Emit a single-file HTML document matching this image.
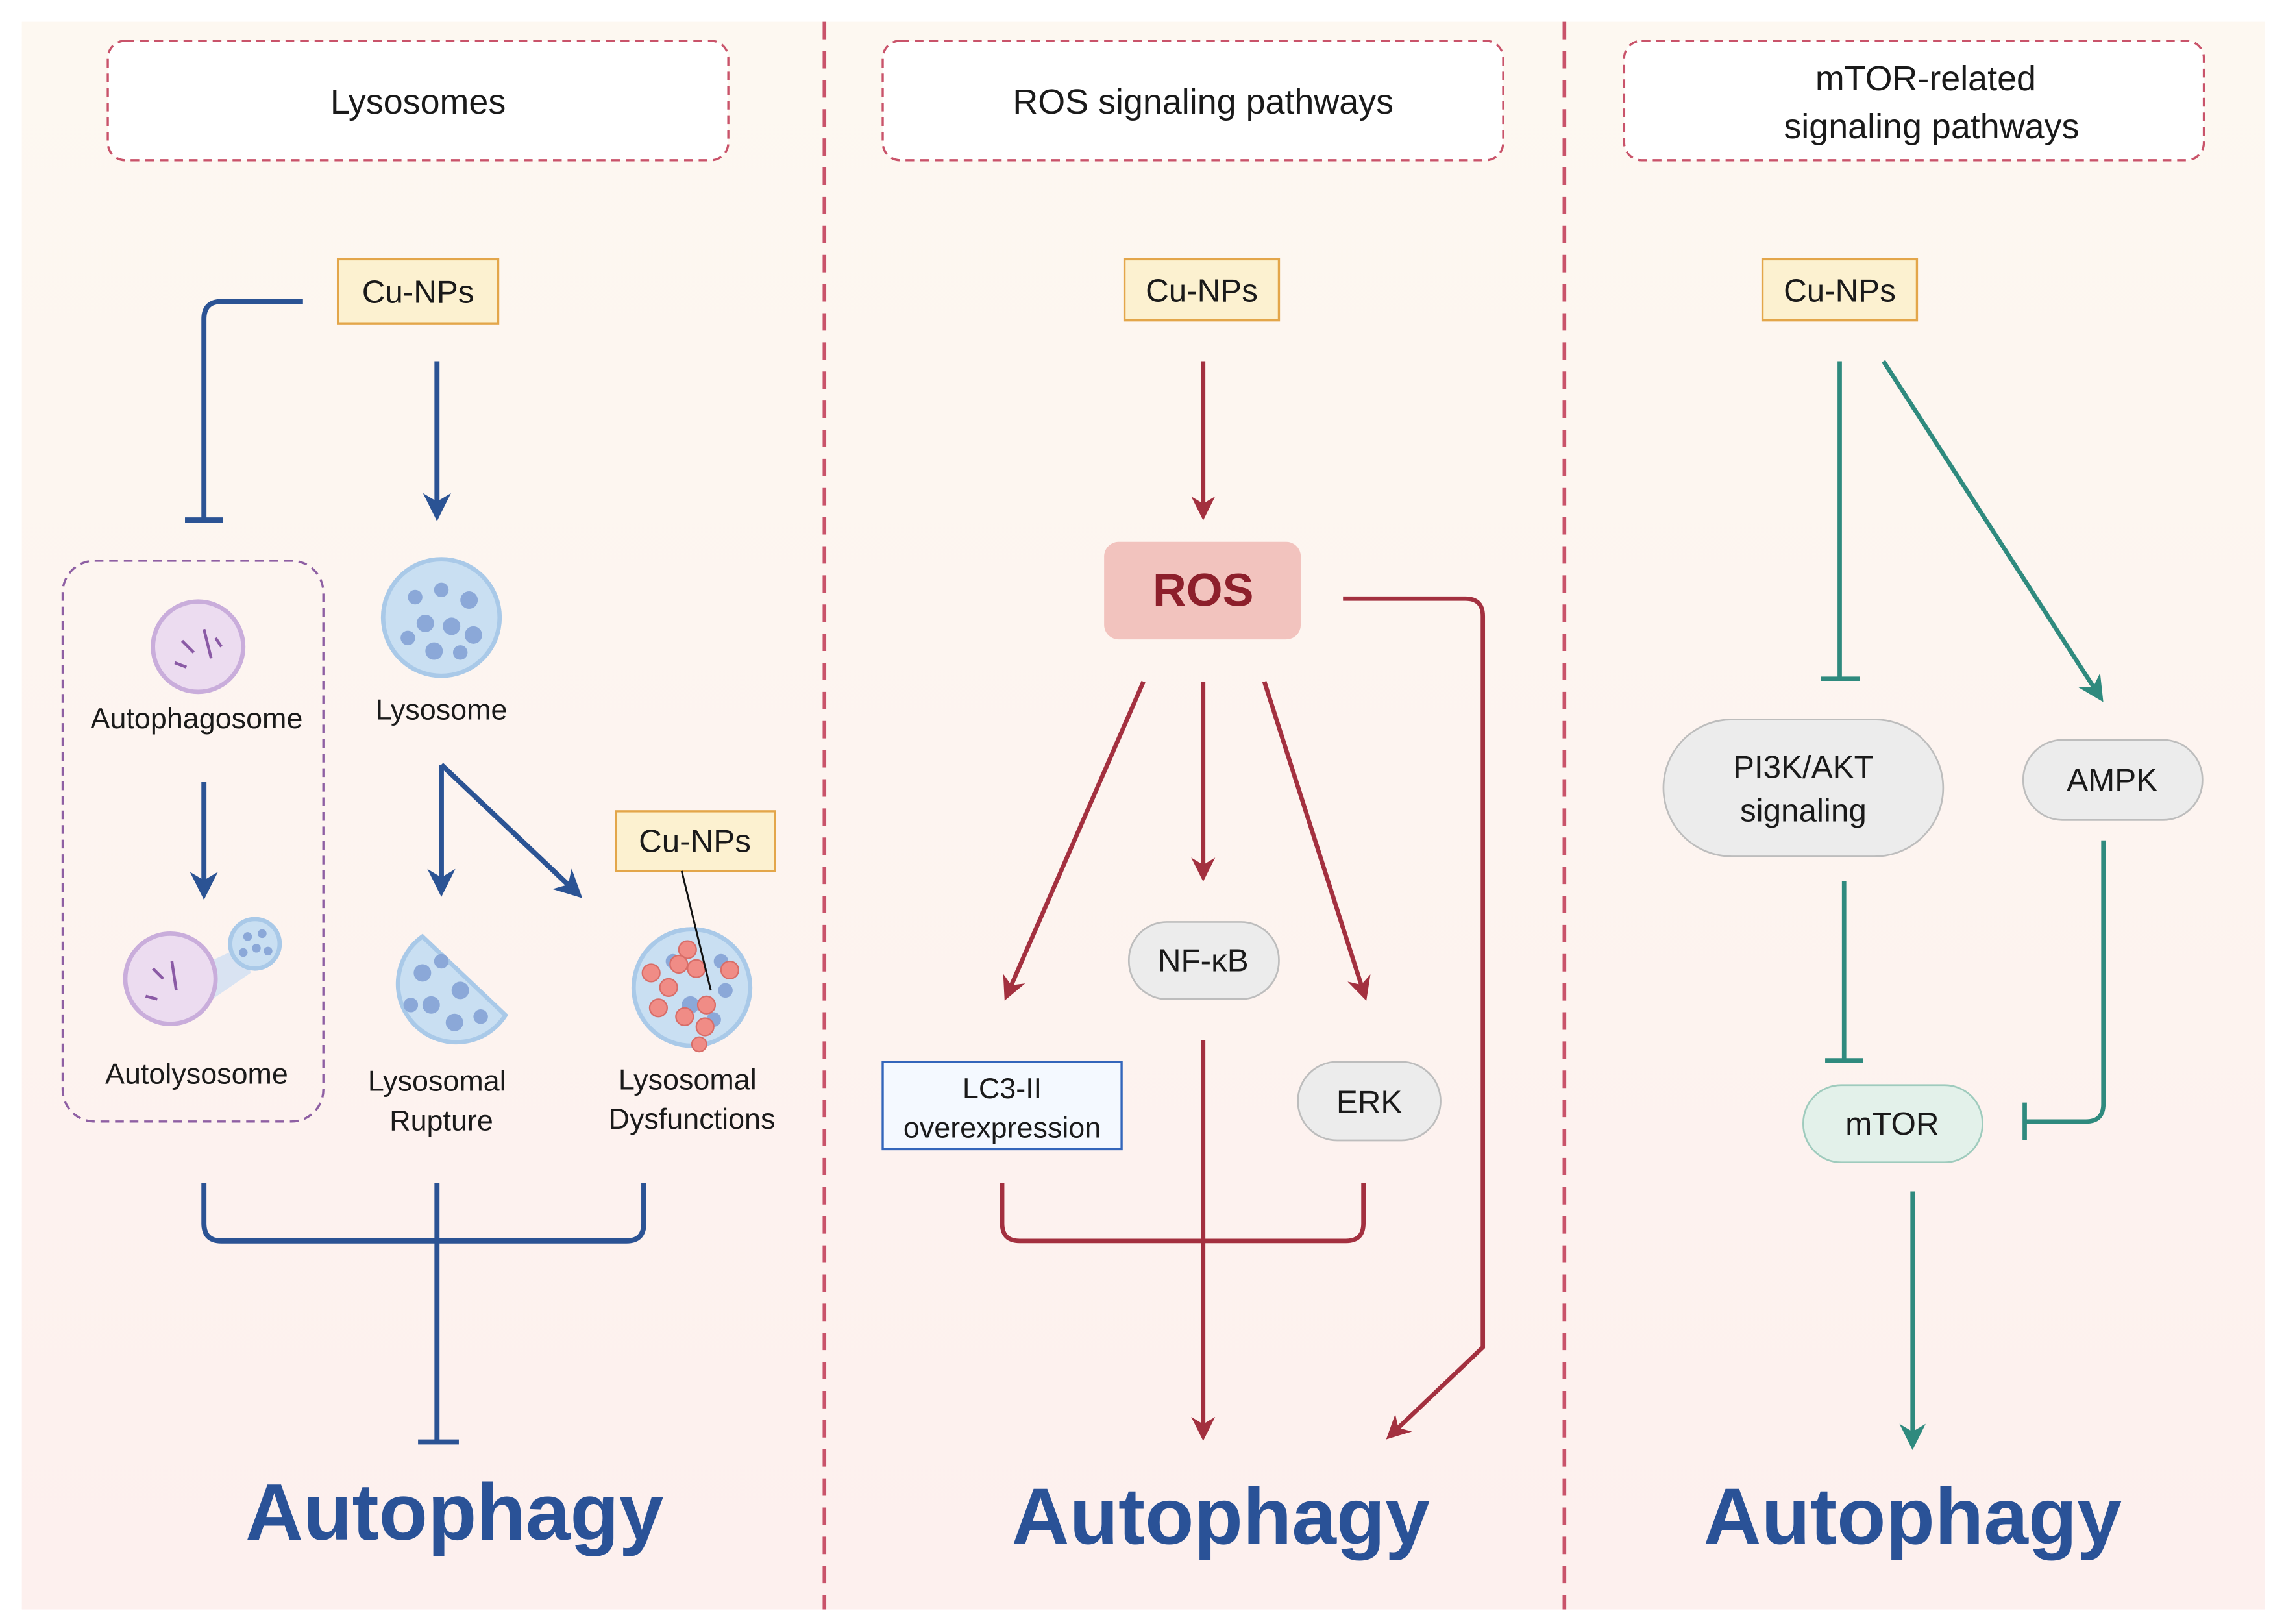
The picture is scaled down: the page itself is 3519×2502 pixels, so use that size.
<!DOCTYPE html>
<html><head><meta charset="utf-8"><style>
html,body{margin:0;padding:0;background:#fff;}
svg{display:block;}
text{font-family:"Liberation Sans",Arial,sans-serif;}
</style></head><body>
<svg width="3519" height="2502" viewBox="0 0 1568 1115" preserveAspectRatio="none" xmlns="http://www.w3.org/2000/svg">
<defs>
<linearGradient id="bg" x1="0" y1="0" x2="0" y2="1">
<stop offset="0" stop-color="#fdf8f1"/><stop offset="1" stop-color="#fdf0ee"/>
</linearGradient>
<marker id="ab" viewBox="0 0 10 10" refX="8" refY="5" markerWidth="5.5" markerHeight="5.5" orient="auto"><path d="M0,0 L10,5 L0,10 L3,5 Z" fill="#2b5394"/></marker>
<marker id="ar" viewBox="0 0 10 10" refX="8" refY="5" markerWidth="5.5" markerHeight="5.5" orient="auto"><path d="M0,0 L10,5 L0,10 L3,5 Z" fill="#a3303f"/></marker>
<marker id="at" viewBox="0 0 10 10" refX="8" refY="5" markerWidth="6" markerHeight="6" orient="auto"><path d="M0,0 L10,5 L0,10 L3,5 Z" fill="#2f8a7e"/></marker>
</defs>
<rect x="15" y="15" width="1540" height="1090" fill="url(#bg)"/>
<g stroke="#c9536a" stroke-width="2.5" stroke-dasharray="12,8">
<line x1="566" y1="15" x2="566" y2="1105"/><line x1="1074" y1="15" x2="1074" y2="1105"/>
</g>
<g fill="#fff" stroke="#c9536a" stroke-width="1.5" stroke-dasharray="6,4">
<rect x="74" y="28" width="426" height="82" rx="12"/>
<rect x="606" y="28" width="426" height="82" rx="12"/>
<rect x="1115" y="28" width="398" height="82" rx="12"/>
</g>
<g font-size="24" fill="#1a1a1a" text-anchor="middle">
<text x="287" y="78">Lysosomes</text>
<text x="826" y="78">ROS signaling pathways</text>
<text x="1322" y="62">mTOR-related</text>
<text x="1326" y="95">signaling pathways</text>
</g>
<g fill="#fcf1d0" stroke="#e3a64a" stroke-width="1.5">
<rect x="232" y="178" width="110" height="44"/>
<rect x="423" y="557" width="109" height="41"/>
<rect x="772" y="178" width="106" height="42"/>
<rect x="1210" y="178" width="106" height="42"/>
</g>
<g font-size="22" fill="#1a1a1a" text-anchor="middle">
<text x="287" y="208">Cu-NPs</text>
<text x="477" y="585">Cu-NPs</text>
<text x="825" y="207">Cu-NPs</text>
<text x="1263" y="207">Cu-NPs</text>
</g>
<!-- Panel 1 -->
<g stroke="#2b5394" stroke-width="3.5" fill="none">
<path d="M208,207 H152 Q140,207 140,219 V357"/>
<line x1="127" y1="357" x2="153" y2="357"/>
<line x1="300" y1="248" x2="300" y2="354" marker-end="url(#ab)"/>
<line x1="140" y1="537" x2="140" y2="614" marker-end="url(#ab)"/>
<line x1="303" y1="525" x2="303" y2="612" marker-end="url(#ab)"/>
<line x1="303" y1="525" x2="397" y2="614" marker-end="url(#ab)"/>
<path d="M140,812 V840 Q140,852 152,852 H430 Q442,852 442,840 V812"/>
<line x1="300" y1="812" x2="300" y2="990"/>
<line x1="287" y1="990" x2="315" y2="990"/>
</g>
<rect x="43" y="385" width="179" height="385" rx="22" fill="none" stroke="#8e5fa3" stroke-width="1.5" stroke-dasharray="6,4"/>
<circle cx="136" cy="444" r="31" fill="#ecdcf0" stroke="#c9addb" stroke-width="3"/>
<g stroke="#8a5aa5" stroke-width="2"><line x1="125" y1="440" x2="133" y2="448"/><line x1="140" y1="432" x2="145" y2="452"/><line x1="120" y1="455" x2="128" y2="458"/><line x1="148" y1="438" x2="152" y2="444"/></g>
<circle cx="303" cy="424" r="40" fill="#c9dff2" stroke="#a9c9e8" stroke-width="3"/>
<g fill="#8ba8d8"><circle cx="285" cy="410" r="5"/><circle cx="303" cy="405" r="5"/><circle cx="322" cy="412" r="6"/><circle cx="292" cy="428" r="6"/><circle cx="310" cy="430" r="6"/><circle cx="325" cy="436" r="6"/><circle cx="298" cy="447" r="6"/><circle cx="316" cy="448" r="5"/><circle cx="280" cy="438" r="5"/></g>
<!-- autolysosome -->
<path d="M140,662 L170,648 L172,668 L140,690 Z" fill="#d9e3f2" stroke="none"/>
<circle cx="175" cy="648" r="17" fill="#c9dff2" stroke="#a9c9e8" stroke-width="3"/>
<circle cx="117" cy="672" r="31" fill="#ecdcf0" stroke="#c9addb" stroke-width="3"/>
<g fill="#8ba8d8"><circle cx="170" cy="643" r="3"/><circle cx="180" cy="641" r="3"/><circle cx="176" cy="651" r="3"/><circle cx="184" cy="653" r="3"/><circle cx="167" cy="654" r="3"/></g>
<g stroke="#8a5aa5" stroke-width="2"><line x1="105" y1="665" x2="112" y2="672"/><line x1="118" y1="660" x2="121" y2="680"/><line x1="100" y1="684" x2="108" y2="686"/></g>
<!-- rupture -->
<path d="M290,643 A40,40 0 1 0 347,697 Z" fill="#c9dff2" stroke="#a9c9e8" stroke-width="3"/>
<g fill="#8ba8d8"><circle cx="290" cy="668" r="6"/><circle cx="303" cy="660" r="5"/><circle cx="316" cy="680" r="6"/><circle cx="296" cy="690" r="6"/><circle cx="312" cy="702" r="6"/><circle cx="330" cy="698" r="5"/><circle cx="282" cy="690" r="5"/></g>
<circle cx="475" cy="678" r="40" fill="#c9dff2" stroke="#a9c9e8" stroke-width="3"/>
<g fill="#8ba8d8"><circle cx="462" cy="660" r="5"/><circle cx="495" cy="660" r="5"/><circle cx="474" cy="690" r="6"/><circle cx="490" cy="700" r="5"/><circle cx="498" cy="680" r="5"/></g>
<g fill="#f08c86" stroke="#d86d68" stroke-width="1"><circle cx="472" cy="652" r="6"/><circle cx="466" cy="662" r="6"/><circle cx="478" cy="665" r="6"/><circle cx="447" cy="668" r="6"/><circle cx="459" cy="678" r="6"/><circle cx="485" cy="690" r="6"/><circle cx="501" cy="666" r="6"/><circle cx="452" cy="692" r="6"/><circle cx="470" cy="698" r="6"/><circle cx="484" cy="705" r="6"/><circle cx="480" cy="717" r="5"/></g>
<line x1="468" y1="598" x2="488" y2="680" stroke="#111" stroke-width="1.3"/>
<g font-size="20" fill="#1a1a1a" text-anchor="middle">
<text x="135" y="500">Autophagosome</text>
<text x="303" y="494">Lysosome</text>
<text x="135" y="744">Autolysosome</text>
<text x="300" y="749">Lysosomal</text><text x="303" y="776">Rupture</text>
<text x="472" y="748">Lysosomal</text><text x="475" y="775">Dysfunctions</text>
</g>
<g font-size="55" font-weight="bold" fill="#2a5297" text-anchor="middle">
<text x="312" y="1057">Autophagy</text>
<text x="838" y="1060">Autophagy</text>
<text x="1313" y="1060">Autophagy</text>
</g>
<!-- Panel 2 -->
<rect x="758" y="372" width="135" height="67" rx="10" fill="#f2c3be"/>
<text x="826" y="416" font-size="32" font-weight="bold" fill="#8d1f2b" text-anchor="middle">ROS</text>
<g stroke="#a3303f" stroke-width="3" fill="none">
<line x1="826" y1="248" x2="826" y2="354" marker-end="url(#ar)"/>
<line x1="785" y1="468" x2="691" y2="684" marker-end="url(#ar)"/>
<line x1="826" y1="468" x2="826" y2="602" marker-end="url(#ar)"/>
<line x1="868" y1="468" x2="937" y2="684" marker-end="url(#ar)"/>
<path d="M688,812 V840 Q688,852 700,852 H924 Q936,852 936,840 V812"/>
<line x1="826" y1="714" x2="826" y2="986" marker-end="url(#ar)"/>
<path d="M922,411 H1006 Q1018,411 1018,423 V925 L954,986" marker-end="url(#ar)"/>
</g>
<rect x="775" y="633" width="103" height="53" rx="26" fill="#ececec" stroke="#bdbdbd" stroke-width="1.2"/>
<rect x="891" y="729" width="98" height="54" rx="27" fill="#ececec" stroke="#bdbdbd" stroke-width="1.2"/>
<rect x="606" y="729" width="164" height="60" fill="#f4f9ff" stroke="#3366bb" stroke-width="1.5"/>
<g font-size="22" fill="#1a1a1a" text-anchor="middle">
<text x="826" y="667">NF-κB</text>
<text x="940" y="764">ERK</text>
<text x="688" y="754" font-size="20">LC3-II</text>
<text x="688" y="781" font-size="20">overexpression</text>
</g>
<!-- Panel 3 -->
<g stroke="#2f8a7e" stroke-width="3" fill="none">
<line x1="1263" y1="248" x2="1263" y2="466"/><line x1="1250" y1="466" x2="1277" y2="466"/>
<line x1="1293" y1="248" x2="1442" y2="479" marker-end="url(#at)"/>
<line x1="1266" y1="605" x2="1266" y2="728"/><line x1="1253" y1="728" x2="1279" y2="728"/>
<path d="M1444,577 V758 Q1444,770 1432,770 H1390"/><line x1="1390" y1="757" x2="1390" y2="783"/>
<line x1="1313" y1="818" x2="1313" y2="992" marker-end="url(#at)"/>
</g>
<rect x="1142" y="494" width="192" height="94" rx="47" fill="#ececec" stroke="#bdbdbd" stroke-width="1.2"/>
<rect x="1389" y="508" width="123" height="55" rx="27" fill="#ececec" stroke="#bdbdbd" stroke-width="1.2"/>
<rect x="1238" y="745" width="123" height="53" rx="26" fill="#e3f1ea" stroke="#9fcbbd" stroke-width="1.2"/>
<g font-size="22" fill="#1a1a1a" text-anchor="middle">
<text x="1238" y="534">PI3K/AKT</text><text x="1238" y="564">signaling</text>
<text x="1450" y="543">AMPK</text>
<text x="1299" y="779">mTOR</text>
</g>
</svg>
</body></html>
